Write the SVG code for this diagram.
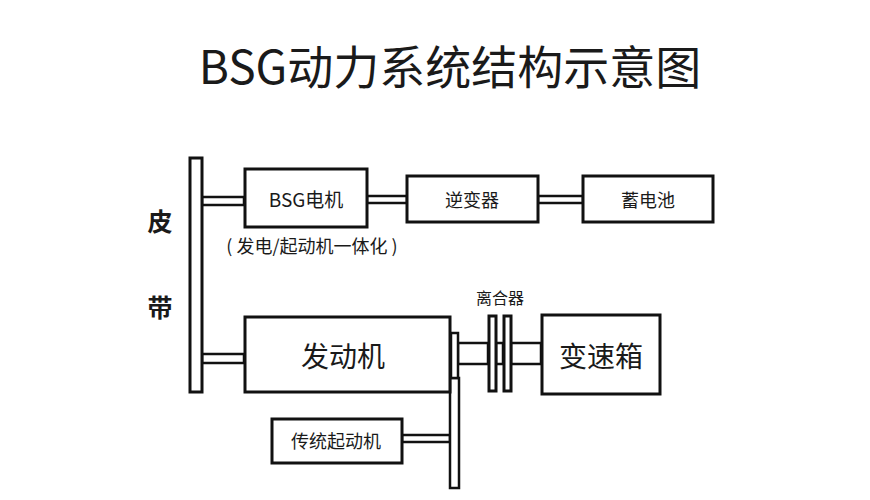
<svg xmlns="http://www.w3.org/2000/svg" width="870" height="500" viewBox="0 0 870 500">
<style>
.box{fill:#fff;stroke:#111;stroke-width:3}
.shaft{fill:#fff;stroke:#111;stroke-width:2.5}
.t{font-family:"Noto Sans CJK SC","Noto Sans",sans-serif;fill:#1a1a1a;text-anchor:middle;dominant-baseline:central}
</style>
<rect width="870" height="500" fill="#fff"/>
<text class="t" x="450" y="64" font-size="46">BSG动力系统结构示意图</text>
<g id="connectors">
<rect class="shaft" x="202" y="197" width="42" height="8"/>
<rect class="shaft" x="367" y="196" width="40" height="7"/>
<rect class="shaft" x="538" y="196" width="45" height="7"/>
<rect class="shaft" x="202" y="354" width="42" height="9"/>
<rect class="shaft" x="458" y="343" width="30" height="21"/>
<rect class="shaft" x="496" y="343" width="7" height="21"/>
<rect class="shaft" x="511" y="343" width="30" height="21"/>
<rect class="shaft" x="402" y="435" width="48" height="7"/>
<rect class="shaft" x="450" y="378" width="9" height="110"/>
<rect class="shaft" x="451" y="333" width="7" height="45"/>
</g>
<g id="belt">
<rect class="box" x="190" y="158" width="12" height="234"/>
<text class="t" x="160" y="220" font-size="25" font-weight="bold">皮</text>
<text class="t" x="160" y="306" font-size="25" font-weight="bold">带</text>
</g>
<g id="bsg">
<rect class="box" x="245" y="169" width="122" height="58"/>
<text class="t" x="306" y="198" font-size="19">BSG电机</text>
<text class="t" x="312" y="245" font-size="18">( 发电/起动机一体化 )</text>
</g>
<g id="inverter">
<rect class="box" x="407" y="176" width="131" height="46"/>
<text class="t" x="472" y="199" font-size="18">逆变器</text>
</g>
<g id="battery">
<rect class="box" x="583" y="176" width="130" height="46"/>
<text class="t" x="648" y="199" font-size="18">蓄电池</text>
</g>
<g id="engine">
<rect class="box" x="245" y="317" width="205" height="75"/>
<text class="t" x="343" y="355" font-size="28">发动机</text>
</g>
<g id="clutch">
<rect class="box" x="489" y="316" width="7" height="75"/>
<rect class="box" x="504" y="316" width="7" height="75"/>
<text class="t" x="500" y="297" font-size="16">离合器</text>
</g>
<g id="gearbox">
<rect class="box" x="542" y="315" width="118" height="79"/>
<text class="t" x="601" y="355" font-size="28">变速箱</text>
</g>
<g id="starter">
<rect class="box" x="272" y="419" width="130" height="44"/>
<text class="t" x="336" y="440" font-size="18">传统起动机</text>
</g>
</svg>
